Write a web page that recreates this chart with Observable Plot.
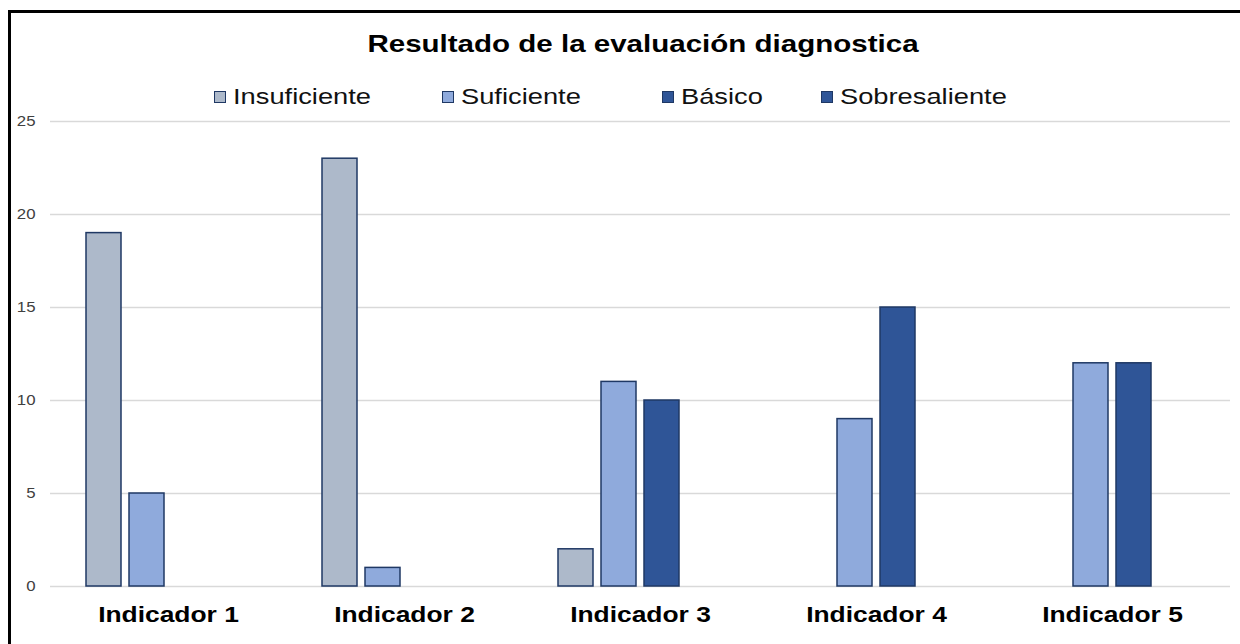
<!DOCTYPE html>
<html>
<head>
<meta charset="utf-8">
<script src="https://cdn.jsdelivr.net/npm/d3@7"></script>
<script src="https://cdn.jsdelivr.net/npm/@observablehq/plot@0.6"></script>
<style>
  html, body { margin: 0; padding: 0; background: #fff; }
  body { width: 1240px; height: 644px; overflow: hidden; position: relative; font-family: "Liberation Sans", Arial, sans-serif; }
  #frame { position: absolute; left: 8px; top: 10px; width: 1300px; height: 700px; border-left: 3px solid #000; border-top: 3px solid #000; box-sizing: border-box; }
  #title { position: absolute; top: 30px; left: 0; width: 1286px; text-align: center; font-size: 24px; font-weight: bold; color: #000; transform: scaleX(1.23); transform-origin: 643px 50%; }
  #legend { position: absolute; top: 84px; left: 0; font-size: 22px; color: #111; }
  .item { position: absolute; top: 0; display: flex; align-items: center; white-space: nowrap; }
  .sw { width: 10px; height: 10px; border: 1.5px solid #1f3864; margin-right: 7px; flex: none; }
  .lt { display: inline-block; transform: scaleX(1.24); transform-origin: 0 50%; }
  #chart { position: absolute; left: 0; top: 100px; }
</style>
</head>
<body>
<div id="frame"></div>
<div id="title">Resultado de la evaluación diagnostica</div>
<div id="legend"></div>
<div id="chart"></div>
<script>
const indicadores = ["Indicador 1", "Indicador 2", "Indicador 3", "Indicador 4", "Indicador 5"];
const niveles = ["Insuficiente", "Suficiente", "Básico", "Sobresaliente"];
const insuficiente = [19, 23, 2, 0, 0];
const suficiente = [5, 1, 11, 9, 12];
const basico = [0, 0, 10, 15, 12];
const sobresaliente = [0, 0, 0, 0, 0];
const colores = ["#adb9ca", "#8faadc", "#2f5597", "#2f5597"];
const yTicks = [0, 5, 10, 15, 20, 25];

const series = [insuficiente, suficiente, basico, sobresaliente];
const data = [];
indicadores.forEach((ind, i) => {
  niveles.forEach((n, j) => {
    data.push({indicador: ind, nivel: n, valor: series[j][i]});
  });
});

// legend (item left offsets are layout only)
const legendLefts = [214, 442, 662, 821];
const legend = document.getElementById("legend");
niveles.forEach((n, j) => {
  const it = document.createElement("div");
  it.className = "item";
  it.style.left = legendLefts[j] + "px";
  const sw = document.createElement("div");
  sw.className = "sw";
  sw.style.background = colores[j];
  const t = document.createElement("span");
  t.className = "lt";
  t.textContent = n;
  it.appendChild(sw);
  it.appendChild(t);
  legend.appendChild(it);
});

const chart = Plot.plot({
  width: 1240,
  height: 540,
  marginLeft: 49,
  marginRight: 9,
  marginTop: 21,
  marginBottom: 54,
  style: {fontFamily: "'Liberation Sans', Arial, sans-serif", background: "transparent"},
  fx: {domain: indicadores, padding: 0, label: null},
  x: {domain: niveles, paddingInner: 0.186, paddingOuter: 0.837, axis: null},
  y: {domain: [0, 25], label: null},
  color: {domain: niveles, range: colores},
  marks: [
    Plot.gridY(yTicks, {stroke: "#d9d9d9", strokeOpacity: 1, strokeWidth: 1.5}),
    Plot.axisY(yTicks, {tickSize: 0, tickPadding: 15, fontSize: 15, fill: "#404040", label: null}),
    Plot.axisFx({anchor: "bottom", tickSize: 0, tickPadding: 20, fontSize: 22, fontWeight: "bold", fill: "#000", label: null}),
    Plot.barY(data.filter(d => d.valor > 0), {fx: "indicador", x: "nivel", y: "valor", fill: "nivel", stroke: "#1f3864", strokeWidth: 1.5})
  ]
});

// widen axis text slightly, as in the reference rendering
function stretch(sel, k) {
  chart.querySelectorAll(sel).forEach(t => {
    const tr = t.getAttribute("transform");
    if (tr) {
      t.setAttribute("transform", tr + ` scale(${k},1)`);
    } else {
      const x = +(t.getAttribute("x") || 0), y = +(t.getAttribute("y") || 0);
      t.removeAttribute("x"); t.removeAttribute("y");
      t.setAttribute("transform", `translate(${x},${y}) scale(${k},1)`);
    }
  });
}
stretch('g[aria-label="fx-axis tick label"] text', 1.2);
stretch('g[aria-label="y-axis tick label"] text', 1.12);

document.getElementById("chart").appendChild(chart);
</script>
</body>
</html>
